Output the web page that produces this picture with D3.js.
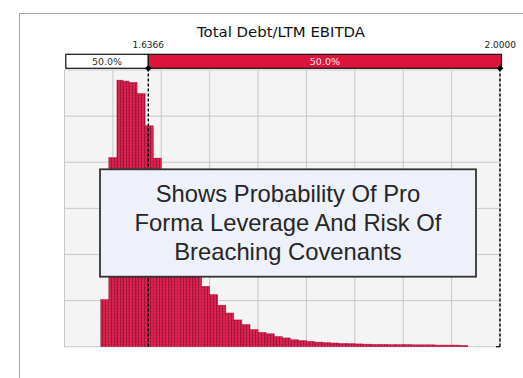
<!DOCTYPE html>
<html>
<head>
<meta charset="utf-8">
<script src="https://cdn.jsdelivr.net/npm/d3@7"></script>
<style>
  body { margin: 0; background: #fff; }
  svg { display: block; }
</style>
</head>
<body>
<svg id="chart" width="523" height="378"></svg>
<script>
// ---- Forecast data: Total Debt / LTM EBITDA ----
const chartTitle = "Total Debt/LTM EBITDA";

// histogram bin edges (leverage multiple) and trial counts per bin
const binEdges = [
  1.5875, 1.5958, 1.6042, 1.6104, 1.6167, 1.6250, 1.6333, 1.6417, 1.6500,
  1.6583, 1.6667, 1.6750, 1.6833, 1.6917, 1.7000, 1.7083, 1.7167, 1.7250,
  1.7333, 1.7417, 1.7500, 1.7583, 1.7667, 1.7750, 1.7833, 1.7917, 1.8000,
  1.8083, 1.8167, 1.8250, 1.8333, 1.8417, 1.8500, 1.8583, 1.8667, 1.8750,
  1.8833, 1.8917, 1.9000, 1.9083, 1.9167, 1.9250, 1.9333, 1.9417, 1.9500,
  1.9583, 1.9667
];
const frequency = [
  102, 410, 578, 576, 573, 549, 479, 409, 340,
  285, 238, 198, 162, 131, 113, 90, 73, 58,
  48, 37, 31, 28, 22, 19, 15, 13, 11.5,
  10, 8.7, 8, 7, 6.5, 6, 5.5, 5, 5,
  4.5, 4.5, 4.5, 4, 4, 4, 3.5, 3.5, 3.5,
  3
];

const xDomain = [1.55, 2.0];
const xGridValues = [1.60, 1.65, 1.70, 1.75, 1.80, 1.85, 1.90, 1.95];
const yDomain = [0, 600];
const yGridValues = [100, 200, 300, 400, 500];

// certainty range markers
const certaintyBounds = [1.6366, 2.0];
const certaintyLabels = ["1.6366", "2.0000"];
const shareLabels = ["50.0%", "50.0%"];

const noteLines = [
  "Shows Probability Of Pro",
  "Forma Leverage And Risk Of",
  "Breaching Covenants"
];

// ---- Layout ----
const plot = { left: 64.5, right: 500, top: 70, bottom: 346.7 };

const svg = d3.select("#chart");

const x = d3.scaleLinear().domain(xDomain).range([plot.left, plot.right]);
const y = d3.scaleLinear().domain(yDomain).range([plot.bottom, plot.top]);

// bar texture
const defs = svg.append("defs");
const pat = defs.append("pattern")
  .attr("id", "weave").attr("patternUnits", "userSpaceOnUse")
  .attr("width", 3).attr("height", 3);
pat.append("rect").attr("width", 3).attr("height", 3).attr("fill", "#de2450");
pat.append("rect").attr("x", 0).attr("width", 1).attr("height", 3).attr("fill", "#a8143c");
pat.append("rect").attr("y", 2).attr("width", 3).attr("height", 1).attr("fill", "rgba(110,0,30,0.14)");

// outer frame
svg.append("rect")
  .attr("x", 19.5).attr("y", 13.5).attr("width", 520).attr("height", 400)
  .attr("fill", "none").attr("stroke", "#a6a6a6").attr("stroke-width", 1);

// title
svg.append("text")
  .attr("x", 281).attr("y", 36.7)
  .attr("text-anchor", "middle")
  .attr("font-family", "DejaVu Sans, Verdana, sans-serif")
  .attr("font-size", 14)
  .attr("textLength", 168).attr("lengthAdjust", "spacingAndGlyphs")
  .attr("fill", "#111")
  .text(chartTitle);

// plot background and grid
svg.append("rect")
  .attr("x", plot.left).attr("y", plot.top)
  .attr("width", plot.right - plot.left).attr("height", plot.bottom - plot.top)
  .attr("fill", "#f4f4f4").attr("stroke", "#c8c8c8").attr("stroke-width", 1);

svg.append("g").selectAll("line").data(xGridValues).join("line")
  .attr("x1", d => x(d)).attr("x2", d => x(d))
  .attr("y1", plot.top).attr("y2", plot.bottom)
  .attr("stroke", "#c8c8c8").attr("stroke-width", 1);

svg.append("g").selectAll("line").data(yGridValues).join("line")
  .attr("x1", plot.left).attr("x2", plot.right)
  .attr("y1", d => y(d)).attr("y2", d => y(d))
  .attr("stroke", "#c8c8c8").attr("stroke-width", 1);

// histogram bars
const bins = frequency.map((f, i) => ({ lo: binEdges[i], hi: binEdges[i + 1], f }));
svg.append("g").selectAll("rect").data(bins).join("rect")
  .attr("x", d => x(d.lo))
  .attr("y", d => y(d.f))
  .attr("width", d => x(d.hi) - x(d.lo))
  .attr("height", d => y(0) - y(d.f))
  .attr("fill", "url(#weave)")
  .attr("stroke", "#b0163e").attr("stroke-width", 0.5);

// certainty range lines
svg.append("g").selectAll("line").data(certaintyBounds).join("line")
  .attr("x1", d => x(d)).attr("x2", d => x(d))
  .attr("y1", 68.5).attr("y2", plot.bottom)
  .attr("stroke", "#000").attr("stroke-width", 1.4)
  .attr("stroke-dasharray", "3,2");

svg.append("line")
  .attr("x1", x(certaintyBounds[1]) - 4).attr("x2", x(certaintyBounds[1]))
  .attr("y1", plot.bottom).attr("y2", plot.bottom)
  .attr("stroke", "#000").attr("stroke-width", 1.2);

// split bar above the plot
const barTop = 54.3, barH = 14;
const segs = [
  { lo: xDomain[0], hi: certaintyBounds[0], fill: "#ffffff", text: "#333", label: shareLabels[0] },
  { lo: certaintyBounds[0], hi: certaintyBounds[1], fill: "#dc143c", text: "#fde8ec", label: shareLabels[1] }
];
const segX = d => (d.lo === xDomain[0] ? x(d.lo) + 1.3 : x(d.lo));
const segX2 = d => (d.hi === xDomain[1] ? x(d.hi) + 1.5 : x(d.hi));
svg.append("g").selectAll("rect").data(segs).join("rect")
  .attr("x", segX).attr("y", barTop)
  .attr("width", d => segX2(d) - segX(d)).attr("height", barH)
  .attr("fill", d => d.fill).attr("stroke", "#111").attr("stroke-width", 1.2);
svg.append("g").selectAll("text").data(segs).join("text")
  .attr("x", d => (segX(d) + segX2(d)) / 2).attr("y", barTop + 11)
  .attr("text-anchor", "middle")
  .attr("font-family", "DejaVu Sans, Verdana, sans-serif")
  .attr("font-size", 9.5)
  .attr("fill", d => d.text)
  .text(d => d.label);

// bound labels and markers
svg.append("g").selectAll("text").data(certaintyBounds).join("text")
  .attr("x", (d, i) => i === 0 ? x(d) : x(d) + 16)
  .attr("y", 48.3)
  .attr("text-anchor", (d, i) => i === 0 ? "middle" : "end")
  .attr("font-family", "DejaVu Sans, Verdana, sans-serif")
  .attr("font-size", 9)
  .attr("fill", "#222")
  .text((d, i) => certaintyLabels[i]);

svg.append("g").selectAll("path").data(certaintyBounds).join("path")
  .attr("d", d3.symbol(d3.symbolSquare).size(22))
  .attr("transform", d => `translate(${x(d)},${barTop + barH}) rotate(45)`)
  .attr("fill", "#000");

// annotation box
const note = svg.append("g");
note.append("rect")
  .attr("x", 100).attr("y", 169.3).attr("width", 376).attr("height", 107.4)
  .attr("fill", "#eef0fa").attr("stroke", "#333").attr("stroke-width", 1.8);
note.selectAll("text").data(noteLines).join("text")
  .attr("x", 288)
  .attr("y", (d, i) => 201.5 + i * 29.2)
  .attr("text-anchor", "middle")
  .attr("font-family", "Liberation Sans, Arial, sans-serif")
  .attr("font-size", 23.8)
  .attr("fill", "#262626")
  .text(d => d);
</script>
</body>
</html>
